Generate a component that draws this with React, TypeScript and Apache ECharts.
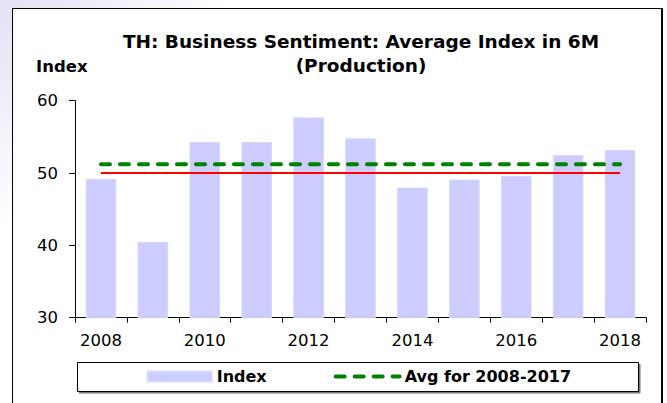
import React, { useEffect, useRef } from 'react';
import * as echarts from 'echarts';

const years = ['2008', '2009', '2010', '2011', '2012', '2013', '2014', '2015', '2016', '2017', '2018'];
const indexValues = [49.2, 40.5, 54.3, 54.3, 57.7, 54.8, 48.0, 49.1, 49.6, 52.5, 53.2];
const avgValues = [51.2, 51.2, 51.2, 51.2, 51.2, 51.2, 51.2, 51.2, 51.2, 51.2, 51.2];
const neutralValues = [50, 50, 50, 50, 50, 50, 50, 50, 50, 50, 50];
const yMin = 30;
const yMax = 60;
const yInterval = 10;
const titleText = 'TH: Business Sentiment: Average Index in 6M\n(Production)';
const yAxisName = 'Index';
const indexName = 'Index';
const avgName = 'Avg for 2008-2017';
const neutralName = 'Neutral 50';

const FONT = '"DejaVu Sans", "Liberation Sans", Arial, sans-serif';
const GREEN = '#008000';
const avgLineStyle = { color: GREEN, width: 4, type: [9, 10], cap: 'round' };

export default function App() {
  const ref = useRef<HTMLDivElement>(null);
  useEffect(() => {
    if (!ref.current) return;
    const chart = echarts.init(ref.current, null, { renderer: 'svg' });
    chart.setOption({
      animation: false,
      backgroundColor: 'transparent',
      textStyle: { fontFamily: FONT, color: '#000' },
      grid: { left: 75, right: 21, top: 100.7, bottom: 85.3, containLabel: false },
      graphic: [
        {
          type: 'text',
          x: 361,
          y: 29.7,
          silent: true,
          style: {
            text: titleText,
            fontFamily: FONT,
            fontSize: 18.5,
            fontWeight: 'bold',
            fill: '#000',
            align: 'center',
            verticalAlign: 'top',
            lineHeight: 24,
          },
        },
        {
          type: 'text',
          x: 36,
          y: 66,
          silent: true,
          style: {
            text: yAxisName,
            fontFamily: FONT,
            fontSize: 16.5,
            fontWeight: 'bold',
            fill: '#000',
            align: 'left',
            verticalAlign: 'middle',
          },
        },
        {
          type: 'line',
          silent: true,
          shape: { x1: 79, y1: 392.5, x2: 640, y2: 392.5 },
          style: { stroke: '#777', lineWidth: 2 },
        },
        {
          type: 'line',
          silent: true,
          shape: { x1: 639.5, y1: 364, x2: 639.5, y2: 393 },
          style: { stroke: '#777', lineWidth: 2 },
        },
        {
          type: 'rect',
          silent: true,
          shape: { x: 77.5, y: 362.5, width: 561, height: 29 },
          style: { fill: 'none', stroke: '#000', lineWidth: 1 },
        },
      ],
      legend: {
        data: [
          { name: indexName, icon: 'rect' },
          {
            name: avgName,
            itemStyle: { color: 'rgba(0,0,0,0)', borderColor: 'rgba(0,0,0,0)', borderWidth: 0, opacity: 0 },
            lineStyle: avgLineStyle,
          },
        ],
        left: 146.7,
        top: 368.5,
        padding: 0,
        itemWidth: 64,
        itemHeight: 10,
        itemGap: 67,
        selectedMode: false,
        textStyle: { fontFamily: FONT, fontSize: 16, fontWeight: 'bold', color: '#000' },
      },
      xAxis: {
        type: 'category',
        data: years,
        boundaryGap: true,
        axisLine: { lineStyle: { color: '#000', width: 1 } },
        axisTick: { show: true, interval: 0, length: 5, lineStyle: { color: '#000' } },
        axisLabel: { interval: 1, margin: 14, fontSize: 16.5, color: '#000', fontFamily: FONT },
        splitLine: { show: false },
      },
      yAxis: {
        type: 'value',
        min: yMin,
        max: yMax,
        interval: yInterval,
        axisLine: { show: true, lineStyle: { color: '#000', width: 1 } },
        axisTick: { show: true, length: 6, lineStyle: { color: '#000' } },
        axisLabel: { margin: 17, fontSize: 16.5, color: '#000', fontFamily: FONT },
        splitLine: { show: false },
      },
      series: [
        {
          name: indexName,
          type: 'bar',
          data: indexValues,
          barCategoryGap: '41%',
          itemStyle: { color: '#ccccff', borderColor: '#d8d8ff', borderWidth: 1 },
          silent: true,
          z: 2,
        },
        {
          name: neutralName,
          type: 'line',
          data: neutralValues,
          symbol: 'none',
          showSymbol: false,
          lineStyle: { color: '#ff0000', width: 2 },
          silent: true,
          z: 3,
        },
        {
          name: avgName,
          type: 'line',
          data: avgValues,
          symbol: 'none',
          showSymbol: false,
          itemStyle: { color: GREEN },
          lineStyle: avgLineStyle,
          silent: true,
          z: 4,
        },
      ],
    });
    return () => chart.dispose();
  }, []);

  return (
    <div
      style={{
        position: 'fixed',
        left: 0,
        top: 0,
        width: 667,
        height: 403,
        overflow: 'hidden',
        background: 'linear-gradient(135deg, #e2e2f4 0%, #efeff9 10%, #ffffff 22%)',
      }}
    >
      <div
        style={{
          position: 'absolute',
          left: 12,
          top: 8,
          width: 648,
          height: 420,
          border: '1px solid #000',
          borderRightWidth: 2,
          background: '#fff',
        }}
      />
      <div ref={ref} style={{ position: 'absolute', left: 0, top: 0, width: 667, height: 403 }} />
    </div>
  );
}
